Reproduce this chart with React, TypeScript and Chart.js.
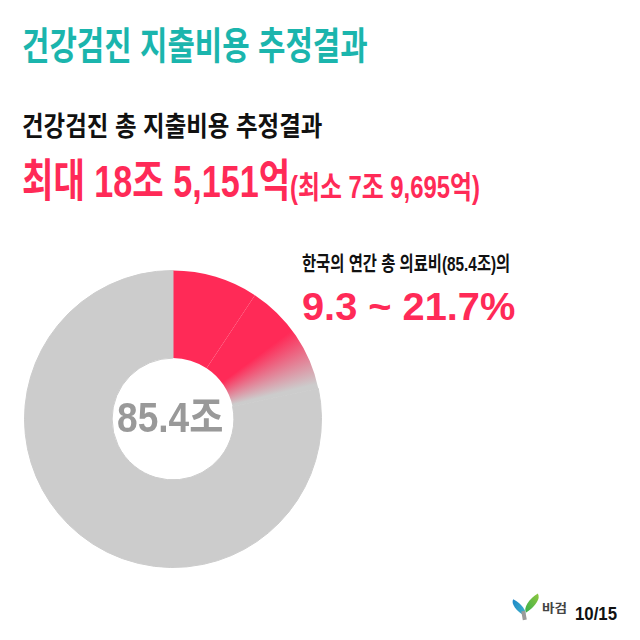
import React, { useEffect, useLayoutEffect, useRef, useState } from "react";
import { Chart, registerables } from "chart.js";
Chart.register(...registerables);

// ---- data ----
const sliceLabels = ["최소 추정", "최대 추정 추가분", "나머지 의료비"];
const minSharePct = 9.3;
const maxSharePct = 21.7;
const sliceValues = [
  minSharePct,
  Math.round((maxSharePct - minSharePct) * 10) / 10,
  Math.round((100 - maxSharePct) * 10) / 10,
];
const titleText = "건강검진 지출비용 추정결과";
const subtitleText = "건강검진 총 지출비용 추정결과";
const maxText = "최대 18조 5,151억";
const minText = "(최소 7조 9,695억)";
const shareLabel = "한국의 연간 총 의료비(85.4조)의";
const shareRange = "9.3 ~ 21.7%";
const centerLabel = "85.4조";
const pageLabel = "10/15";
const logoText = "바검";

// ---- styles ----
const RED = "#FF2A57";
const GREY = "#CCCCCC";
const TEAL = "#1BB5AD";
const FONT = '"Liberation Sans", "Noto Sans CJK KR", sans-serif';

type TxtProps = {
  x: number;
  y: number;
  w: number;
  size: number;
  color: string;
  weight?: number;
  children: React.ReactNode;
};

function Txt({ x, y, w, size, color, weight = 700, children }: TxtProps) {
  const ref = useRef<HTMLSpanElement>(null);
  const [sx, setSx] = useState(1);
  useLayoutEffect(() => {
    const measure = () => {
      const el = ref.current;
      if (!el) return;
      const nat = el.offsetWidth;
      if (nat > 0) setSx(w / nat);
    };
    measure();
    if ((document as any).fonts?.ready) (document as any).fonts.ready.then(measure);
  }, [w]);
  return (
    <span
      ref={ref}
      style={{
        position: "absolute",
        left: x,
        top: y,
        fontSize: size,
        lineHeight: 1,
        whiteSpace: "nowrap",
        color,
        fontWeight: weight,
        fontFamily: FONT,
        transform: `scaleX(${sx})`,
        transformOrigin: "left top",
      }}
    >
      {children}
    </span>
  );
}

function Donut() {
  const canvasRef = useRef<HTMLCanvasElement>(null);
  useEffect(() => {
    if (!canvasRef.current) return;
    const chart = new Chart(canvasRef.current, {
      type: "doughnut",
      data: {
        labels: sliceLabels,
        datasets: [
          {
            data: sliceValues,
            borderWidth: [0, 0, 1],
            borderColor: GREY,
            hoverOffset: 0,
            backgroundColor: (ctx: any) => {
              const i = ctx.dataIndex;
              if (i === 0) return RED;
              if (i === 2) return GREY;
              const c = ctx.chart;
              const a = c.chartArea;
              if (!a) return RED;
              const cx = (a.left + a.right) / 2;
              const cy = (a.top + a.bottom) / 2;
              const g = c.ctx.createConicGradient(-Math.PI / 2, cx, cy);
              g.addColorStop(0, RED);
              g.addColorStop(0.148, RED);
              g.addColorStop(0.212, GREY);
              g.addColorStop(1, GREY);
              return g;
            },
          },
        ],
      },
      options: {
        animation: false,
        responsive: true,
        maintainAspectRatio: false,
        cutout: "41%",
        events: [],
        layout: { padding: 0 },
        plugins: {
          legend: { display: false },
          tooltip: { enabled: false },
        },
      },
    });
    return () => chart.destroy();
  }, []);
  return (
    <div style={{ position: "absolute", left: 23.5, top: 269.5, width: 298, height: 298 }}>
      <canvas ref={canvasRef} />
    </div>
  );
}

function Logo() {
  return (
    <div style={{ position: "absolute", left: 509, top: 595, width: 34, height: 28 }}>
      <div
        style={{
          position: "absolute",
          left: 1,
          top: 8,
          width: 18,
          height: 9,
          borderRadius: "0 100% 0 100%",
          background: "linear-gradient(90deg, #1E88C8, #3FB3C8)",
          transform: "rotate(28deg)",
        }}
      />
      <div
        style={{
          position: "absolute",
          left: 13,
          top: 3,
          width: 20,
          height: 10,
          borderRadius: "100% 0 100% 0",
          background: "linear-gradient(90deg, #3DB04A, #8CC63F)",
          transform: "rotate(-32deg)",
        }}
      />
      <div
        style={{
          position: "absolute",
          left: 13,
          top: 16,
          width: 4,
          height: 9,
          background: "#9A9A9A",
          transform: "rotate(-10deg)",
        }}
      />
    </div>
  );
}

export default function App() {
  return (
    <div
      style={{
        position: "fixed",
        left: 0,
        top: 0,
        width: 640,
        height: 640,
        background: "#ffffff",
        overflow: "hidden",
      }}
    >
      <Txt x={22} y={27} w={346} size={38} color={TEAL} weight={700}>
        {titleText}
      </Txt>
      <Txt x={22} y={114} w={300} size={27} color="#111111" weight={700}>
        {subtitleText}
      </Txt>
      <Txt x={22} y={159} w={268} size={45} color={RED} weight={700}>
        {maxText}
      </Txt>
      <Txt x={290} y={172} w={190} size={31} color={RED} weight={700}>
        {minText}
      </Txt>
      <Txt x={302} y={254} w={208} size={20} color="#111111" weight={700}>
        {shareLabel}
      </Txt>
      <Txt x={302} y={287} w={213} size={39} color={RED} weight={700}>
        {shareRange}
      </Txt>
      <Donut />
      <Txt x={117} y={397} w={106} size={42} color="#999999" weight={700}>
        {centerLabel}
      </Txt>
      <Logo />
      <Txt x={542} y={603} w={25} size={12} color="#444444" weight={700}>
        {logoText}
      </Txt>
      <Txt x={575} y={605} w={42} size={18} color="#111111" weight={700}>
        {pageLabel}
      </Txt>
    </div>
  );
}
